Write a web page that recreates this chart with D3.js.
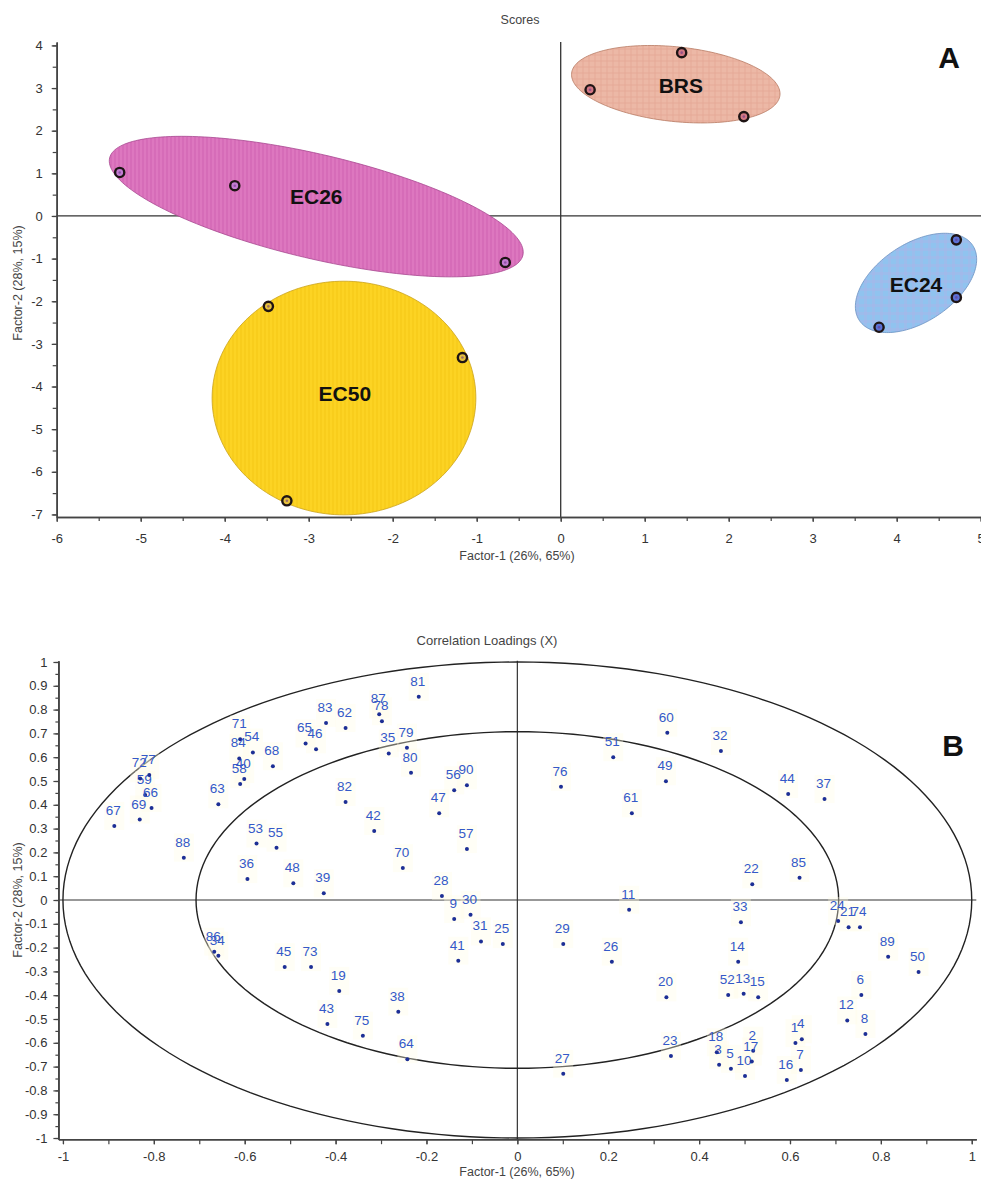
<!DOCTYPE html>
<html>
<head>
<meta charset="utf-8">
<script src="https://cdn.jsdelivr.net/npm/d3@7"></script>
<style>
  body { margin: 0; background: #fff; }
  svg { display: block; }
  text { font-family: Arial, "Liberation Sans", sans-serif; }
</style>
</head>
<body>
<svg id="fig" width="981" height="1180"></svg>
<script>
// ---------- Panel A: PCA scores ----------
const groupNames = ["EC26", "BRS", "EC24", "EC50"];
const scoreF1 = [[-5.25, -3.88, -0.66], [0.35, 1.44, 2.18], [4.71, 4.71, 3.79], [-3.48, -1.17, -3.26]];
const scoreF2 = [[1.02, 0.71, -1.09], [2.96, 3.83, 2.33], [-0.56, -1.91, -2.61], [-2.12, -3.32, -6.68]];
// group ellipses: centre plus two conjugate half-axis vectors (factor units)
const ellipseCX = [-2.91, 1.37, 4.23, -2.58];
const ellipseCY = [0.22, 3.09, -1.57, -4.27];
const ellipseU = [[2.46, -1.14], [1.24, -0.26], [0.675, 0.88], [1.57, 0]];
const ellipseV = [[0.14, 1.19], [0.05, 0.87], [0.256, -0.763], [0, 2.74]];
const groupLabelX = [-2.91, 1.43, 4.23, -2.57];
const groupLabelY = [0.45, 3.05, -1.60, -4.17];
const scoreXTicks = [-6, -5, -4, -3, -2, -1, 0, 1, 2, 3, 4, 5];
const scoreYTicks = [-7, -6, -5, -4, -3, -2, -1, 0, 1, 2, 3, 4];

// ---------- Panel B: correlation loadings ----------
const varIds = d3.range(1, 91);
const loadF1 = [0.612, 0.519, 0.444, 0.626, 0.470, 0.757, 0.624, 0.766, -0.139, 0.501,
  0.246, 0.726, 0.498, 0.486, 0.530, 0.593, 0.516, 0.439, -0.392, 0.328,
  0.729, 0.517, 0.338, 0.706, -0.032, 0.208, 0.101, -0.166, 0.101, -0.103,
  -0.080, 0.448, 0.492, -0.658, -0.283, -0.594, 0.676, -0.262, -0.426, -0.601,
  -0.130, -0.315, -0.418, 0.596, -0.512, -0.443, -0.172, -0.493, 0.327, 0.883,
  0.211, 0.464, -0.574, -0.582, -0.530, -0.139, -0.111, -0.610, -0.819, 0.330,
  0.252, -0.378, -0.658, -0.242, -0.466, -0.805, -0.887, -0.538, -0.831, -0.252,
  -0.610, -0.830, -0.454, 0.754, -0.340, 0.096, -0.810, -0.298, -0.243, -0.234,
  -0.217, -0.378, -0.421, -0.612, 0.621, -0.667, -0.304, -0.734, 0.816, -0.111];
const loadF2 = [-0.601, -0.633, -0.692, -0.585, -0.709, -0.399, -0.714, -0.563, -0.080, -0.739,
  -0.041, -0.506, -0.394, -0.259, -0.409, -0.756, -0.679, -0.640, -0.382, -0.409,
  -0.115, 0.066, -0.655, -0.088, -0.185, -0.259, -0.730, 0.017, -0.185, -0.062,
  -0.174, 0.626, -0.094, -0.234, 0.616, 0.088, 0.424, -0.469, 0.028, 0.508,
  -0.255, 0.290, -0.521, 0.445, -0.282, 0.633, 0.364, 0.070, 0.499, -0.302,
  0.600, -0.399, 0.237, 0.620, 0.220, 0.461, 0.214, 0.487, 0.441, 0.703,
  0.364, 0.723, 0.402, -0.669, 0.658, 0.387, 0.311, 0.562, 0.338, 0.134,
  0.675, 0.511, -0.282, -0.115, -0.570, 0.476, 0.525, 0.751, 0.640, 0.535,
  0.854, 0.412, 0.744, 0.595, 0.093, -0.217, 0.780, 0.178, -0.238, 0.482];
const circleRadii = [1.0, 0.7071];
const loadXTicks = [-1, -0.8, -0.6, -0.4, -0.2, 0, 0.2, 0.4, 0.6, 0.8, 1];
const loadYTicks = [-1, -0.9, -0.8, -0.7, -0.6, -0.5, -0.4, -0.3, -0.2, -0.1, 0,
  0.1, 0.2, 0.3, 0.4, 0.5, 0.6, 0.7, 0.8, 0.9, 1];

// ---------- styling ----------
const axisColor = "#444";
const groupFill = ["#d66cb8", "#ecb8a6", "#90c3ef", "#fcd323"];
const groupAlt = ["#e17fc5", "#e4a896", "#b3b2e6", "#f4c816"];
const groupAltOpacity = [0.55, 0.45, 0.3, 0.55];
const groupEdge = ["#a84890", "#b87a62", "#6a90c0", "#caa21a"];
const markerFill = ["#c47cd2", "#d27884", "#5c72d6", "#e6c03c"];

const svg = d3.select("#fig");
const defs = svg.append("defs");

// fill textures for the group ellipses
function stripePattern(id, base, alt, op) {
  const p = defs.append("pattern").attr("id", id).attr("patternUnits", "userSpaceOnUse")
    .attr("width", 4).attr("height", 4);
  p.append("rect").attr("width", 4).attr("height", 4).attr("fill", base);
  p.append("rect").attr("width", 2).attr("height", 4).attr("fill", alt).attr("opacity", op);
}
function plaidPattern(id, base, alt, op, size) {
  const p = defs.append("pattern").attr("id", id).attr("patternUnits", "userSpaceOnUse")
    .attr("width", size).attr("height", size);
  p.append("rect").attr("width", size).attr("height", size).attr("fill", base);
  p.append("rect").attr("width", size / 2 - 1).attr("height", size).attr("fill", alt).attr("opacity", op);
  p.append("rect").attr("width", size).attr("height", size / 2 - 1).attr("fill", alt).attr("opacity", op);
}
stripePattern("fill0", groupFill[0], groupAlt[0], groupAltOpacity[0]);
plaidPattern("fill1", groupFill[1], groupAlt[1], groupAltOpacity[1], 6);
plaidPattern("fill2", groupFill[2], groupAlt[2], groupAltOpacity[2], 8);
stripePattern("fill3", groupFill[3], groupAlt[3], groupAltOpacity[3]);

function ellipsePath(cx, cy, u, v, xs, ys) {
  const pts = d3.range(0, 360, 2).map(deg => {
    const t = deg * Math.PI / 180;
    return [xs(cx + u[0] * Math.cos(t) + v[0] * Math.sin(t)),
            ys(cy + u[1] * Math.cos(t) + v[1] * Math.sin(t))];
  });
  return d3.line().curve(d3.curveLinearClosed)(pts);
}

function styleAxis(g) {
  g.selectAll(".domain").attr("stroke", axisColor).attr("stroke-width", 1.6);
  g.selectAll(".tick line").attr("stroke", axisColor).attr("stroke-width", 1.2);
  g.selectAll(".tick text").attr("fill", "#333").attr("font-size", 13)
    .attr("font-family", "Arial, 'Liberation Sans', sans-serif");
}

// =============== Panel A ===============
const xA = d3.scaleLinear().domain([-6, 5]).range([56.7, 980.7]);
const yA = d3.scaleLinear().domain([-7.06, 4.08]).range([517, 42]);
const gA = svg.append("g");

gA.append("text").attr("x", 520).attr("y", 24).attr("text-anchor", "middle")
  .attr("font-size", 12.5).attr("fill", "#444").text("Scores");

// zero reference lines
gA.append("line").attr("x1", xA(-6)).attr("x2", 981).attr("y1", yA(0)).attr("y2", yA(0))
  .attr("stroke", "#333").attr("stroke-width", 1.3);
gA.append("line").attr("x1", xA(0)).attr("x2", xA(0)).attr("y1", yA(4.08)).attr("y2", yA(-7.06))
  .attr("stroke", "#333").attr("stroke-width", 1.3);

// group ellipses
groupNames.forEach((name, i) => {
  gA.append("path")
    .attr("d", ellipsePath(ellipseCX[i], ellipseCY[i], ellipseU[i], ellipseV[i], xA, yA))
    .attr("fill", `url(#fill${i})`).attr("stroke", groupEdge[i]).attr("stroke-width", 0.8);
});

// axes
const axAx = gA.append("g").attr("transform", `translate(0,${yA(-7.06)})`)
  .call(d3.axisBottom(xA).tickValues(d3.range(-6, 5.01, 0.5)).tickSize(4).tickSizeOuter(0).tickFormat(""));
const axAxLab = gA.append("g").attr("transform", `translate(0,${yA(-7.06)})`)
  .call(d3.axisBottom(xA).tickValues(scoreXTicks).tickSize(5).tickSizeOuter(0).tickPadding(12).tickFormat(String));
const axAy = gA.append("g").attr("transform", `translate(${xA(-6)},0)`)
  .call(d3.axisLeft(yA).tickValues(d3.range(-7, 4.01, 0.5)).tickSize(4).tickSizeOuter(0).tickFormat(""));
const axAyLab = gA.append("g").attr("transform", `translate(${xA(-6)},0)`)
  .call(d3.axisLeft(yA).tickValues(scoreYTicks).tickSize(5).tickSizeOuter(0).tickPadding(9).tickFormat(String));
[axAx, axAxLab, axAy, axAyLab].forEach(styleAxis);

// score markers
groupNames.forEach((name, i) => {
  scoreF1[i].forEach((x, j) => {
    const px = xA(x), py = yA(scoreF2[i][j]);
    gA.append("circle").attr("cx", px).attr("cy", py).attr("r", 4.6)
      .attr("fill", markerFill[i]).attr("stroke", "#1e1414").attr("stroke-width", 2.4);
    gA.append("circle").attr("cx", px).attr("cy", py).attr("r", 1.3).attr("fill", "#6a3a8a").attr("opacity", 0.6);
  });
  gA.append("text").attr("x", xA(groupLabelX[i])).attr("y", yA(groupLabelY[i]))
    .attr("text-anchor", "middle").attr("dominant-baseline", "central")
    .attr("font-size", 21).attr("font-weight", "bold").attr("fill", "#111").text(name);
});

gA.append("text").attr("x", 517).attr("y", 560).attr("text-anchor", "middle")
  .attr("font-size", 12.5).attr("fill", "#444").text("Factor-1 (26%, 65%)");
gA.append("text").attr("transform", "translate(22,283) rotate(-90)").attr("text-anchor", "middle")
  .attr("font-size", 12.5).attr("fill", "#444").text("Factor-2 (28%, 15%)");
gA.append("text").attr("x", 949).attr("y", 68).attr("text-anchor", "middle")
  .attr("font-size", 30).attr("font-weight", "bold").attr("fill", "#111").text("A");

// =============== Panel B ===============
const xB = d3.scaleLinear().domain([-1.01, 1.01]).range([58.4, 976.3]);
const yB = d3.scaleLinear().domain([-1.005, 1.005]).range([1139.2, 660.8]);
const gB = svg.append("g");

gB.append("text").attr("x", 487).attr("y", 645).attr("text-anchor", "middle")
  .attr("font-size", 13).attr("fill", "#444").text("Correlation Loadings (X)");

gB.append("line").attr("x1", xB(-1.01)).attr("x2", xB(1.01)).attr("y1", yB(0)).attr("y2", yB(0))
  .attr("stroke", "#333").attr("stroke-width", 1.2);
gB.append("line").attr("x1", xB(0)).attr("x2", xB(0)).attr("y1", yB(1.005)).attr("y2", yB(-1.005))
  .attr("stroke", "#333").attr("stroke-width", 1.2);

circleRadii.forEach(r => {
  gB.append("path").attr("d", ellipsePath(0, 0, [r, 0], [0, r], xB, yB))
    .attr("fill", "none").attr("stroke", "#222").attr("stroke-width", 1.4);
});

const axBx = gB.append("g").attr("transform", `translate(0,${yB(-1.005)})`)
  .call(d3.axisBottom(xB).tickValues(d3.range(-1, 1.001, 0.1)).tickSize(5).tickSizeOuter(0).tickFormat(""));
const axBxLab = gB.append("g").attr("transform", `translate(0,${yB(-1.005)})`)
  .call(d3.axisBottom(xB).tickValues(loadXTicks).tickSize(5).tickSizeOuter(0).tickPadding(8).tickFormat(String));
const axBy = gB.append("g").attr("transform", `translate(${xB(-1.01)},0)`)
  .call(d3.axisLeft(yB).tickValues(d3.range(-1, 1.001, 0.05)).tickSize(3).tickSizeOuter(0).tickFormat(""));
const axByLab = gB.append("g").attr("transform", `translate(${xB(-1.01)},0)`)
  .call(d3.axisLeft(yB).tickValues(loadYTicks).tickSize(5).tickSizeOuter(0).tickPadding(6).tickFormat(String));
[axBx, axBxLab, axBy, axByLab].forEach(styleAxis);

// variable loadings: dot with its number above
const pts = gB.append("g");
varIds.forEach((id, i) => {
  const px = xB(loadF1[i]), py = yB(loadF2[i]);
  pts.append("rect").attr("x", px - 10).attr("y", py - 24).attr("width", 20).attr("height", 28)
    .attr("fill", "#fffbe4").attr("opacity", 0.35);
});
varIds.forEach((id, i) => {
  const px = xB(loadF1[i]), py = yB(loadF2[i]);
  pts.append("circle").attr("cx", px).attr("cy", py).attr("r", 2).attr("fill", "#1d2f95");
  pts.append("text").attr("x", px - 1).attr("y", py - 11).attr("text-anchor", "middle")
    .attr("font-size", 13.5).attr("fill", "#3459c8").text(id);
});

gB.append("text").attr("x", 517).attr("y", 1176).attr("text-anchor", "middle")
  .attr("font-size", 12.5).attr("fill", "#444").text("Factor-1 (26%, 65%)");
gB.append("text").attr("transform", "translate(22,900) rotate(-90)").attr("text-anchor", "middle")
  .attr("font-size", 12.5).attr("fill", "#444").text("Factor-2 (28%, 15%)");
gB.append("text").attr("x", 953).attr("y", 756).attr("text-anchor", "middle")
  .attr("font-size", 30).attr("font-weight", "bold").attr("fill", "#111").text("B");
</script>
</body>
</html>
